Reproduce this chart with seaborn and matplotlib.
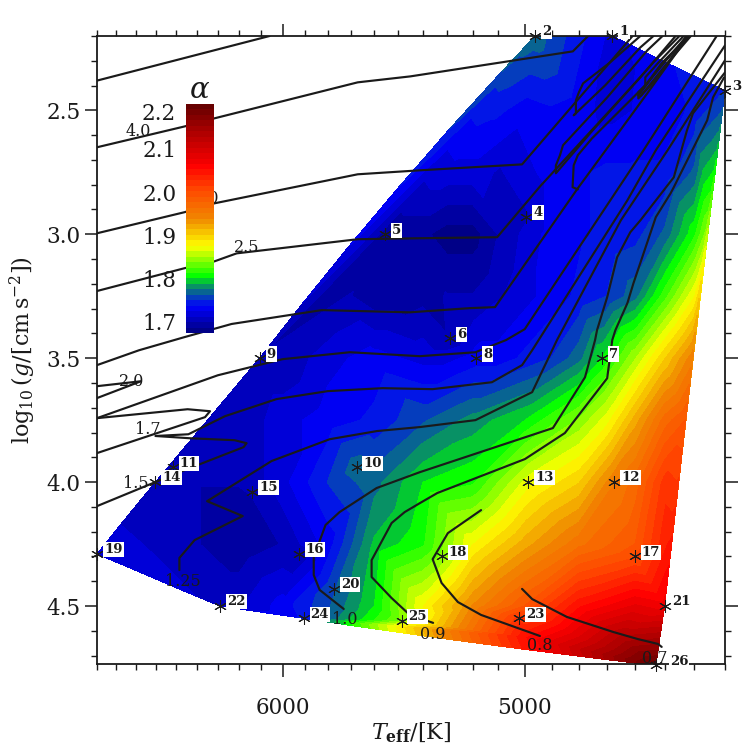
import numpy as np
import matplotlib
matplotlib.use("Agg")
import matplotlib.pyplot as plt
import matplotlib.tri as mtri
from matplotlib.colors import LinearSegmentedColormap
from matplotlib.ticker import FixedLocator, NullFormatter, FixedFormatter
import seaborn as sns

sns.set_theme(style="ticks")
plt.rcParams['font.family'] = ['DejaVu Serif']
plt.rcParams['mathtext.fontset'] = 'dejavuserif'

# simulations (star symbols)
star_id = list(range(1, 27))
star_teff = [4681, 4961, 4300, 4994, 5556, 5290, 4718, 5187, 6105, 5675, 6518, 4674, 4986,
             6603, 6139, 5927, 4603, 5323, 6900, 5773, 4500, 6289, 5021, 5906, 5486, 4530]
star_logg = [2.20, 2.20, 2.42, 2.93, 3.00, 3.42, 3.50, 3.50, 3.50, 3.94, 3.94, 4.00, 4.00,
             4.00, 4.04, 4.29, 4.30, 4.30, 4.29, 4.43, 4.50, 4.50, 4.55, 4.55, 4.56, 4.74]
star_alpha = [1.72, 1.77, 1.75, 1.71, 1.69, 1.70, 1.80, 1.73, 1.70, 1.77, 1.70, 1.95, 1.87,
              1.70, 1.70, 1.70, 2.00, 1.84, 1.72, 1.76, 2.07, 1.71, 2.02, 1.74, 1.84, 2.20]

# extra alpha readings between the stars, one list per logg row
row_25_teff = [5100, 5000, 4900, 4800, 4700, 4600, 4500, 4400]
row_25_alpha = [1.74, 1.73, 1.735, 1.73, 1.72, 1.725, 1.73, 1.74]
row_275_teff = [5300, 5200, 5100, 5000, 4900, 4800, 4700, 4600, 4500, 4400, 4370]
row_275_alpha = [1.72, 1.72, 1.71, 1.72, 1.73, 1.735, 1.74, 1.74, 1.74, 1.765, 1.79]
row_30_teff = [5500, 5400, 5300, 5200, 5100, 4900, 4800, 4700, 4600, 4500, 4400, 4365]
row_30_alpha = [1.69, 1.69, 1.68, 1.68, 1.70, 1.73, 1.735, 1.74, 1.745, 1.765, 1.81, 1.84]
row_325_teff = [5700, 5600, 5500, 5400, 5300, 5200, 5100, 5000, 4900, 4800, 4700, 4600, 4500, 4400]
row_325_alpha = [1.70, 1.69, 1.69, 1.695, 1.70, 1.70, 1.71, 1.72, 1.73, 1.74, 1.75, 1.77, 1.82, 1.875]
row_35_teff = [6000, 5800, 5600, 5400, 5300, 5100, 5000, 4900, 4800, 4600, 4500, 4410]
row_35_alpha = [1.70, 1.72, 1.73, 1.72, 1.72, 1.73, 1.74, 1.75, 1.77, 1.85, 1.90, 1.945]
row_375_teff = [6200, 6000, 5800, 5600, 5400, 5200, 5000, 4800, 4700, 4600, 4500, 4430]
row_375_alpha = [1.70, 1.72, 1.73, 1.74, 1.76, 1.78, 1.80, 1.84, 1.87, 1.92, 1.97, 1.99]
row_40_teff = [6400, 6200, 6000, 5800, 5600, 5400, 5200, 4800, 4600, 4500]
row_40_alpha = [1.70, 1.70, 1.72, 1.75, 1.77, 1.80, 1.81, 1.90, 1.97, 2.02]
row_425_teff = [6600, 6400, 6200, 6000, 5800, 5600, 5400, 5200, 5000, 4800, 4600, 4490]
row_425_alpha = [1.71, 1.70, 1.69, 1.70, 1.73, 1.79, 1.81, 1.875, 1.92, 1.96, 1.99, 2.04]
row_45_teff = [6200, 6000, 5800, 5600, 5400, 5200, 5000, 4800, 4600]
row_45_alpha = [1.71, 1.73, 1.76, 1.80, 1.875, 1.94, 1.99, 2.05, 2.08]
row_4625_teff = [5000, 4800, 4650]
row_4625_alpha = [2.05, 2.09, 2.13]

# black curves
line_a = ([6900, 6059], [2.38, 2.20])
line_b = ([6900, 6460, 6315, 5670, 5450, 4822, 4767], [2.649, 2.565, 2.532, 2.387, 2.363, 2.262, 2.20])
line_c = ([6900, 6460, 6315, 5670, 5411, 5010, 4942, 4610], [2.996, 2.911, 2.875, 2.758, 2.742, 2.718, 2.633, 2.20])
line_d = ([6900, 6460, 6315, 6211, 5670, 5411, 5105, 4942, 4583, 4463],
          [3.229, 3.137, 3.109, 3.077, 3.020, 3.016, 3.012, 2.806, 2.367, 2.20])
line_e = ([6900, 6685, 6460, 6235, 5826, 5452, 5210, 5113, 4880, 4807, 4559, 4420],
          [3.528, 3.468, 3.415, 3.362, 3.306, 3.315, 3.298, 3.294, 2.935, 2.819, 2.431, 2.20])
line_h1 = ([4583, 4688, 4785, 4800, 4811, 4811, 4819, 4706, 4583, 4538],
           [2.20, 2.306, 2.391, 2.427, 2.46, 2.512, 2.52, 2.399, 2.246, 2.20])
line_h2 = ([4507, 4559, 4699, 4858, 4869, 4884, 4884, 4760, 4538, 4450],
           [2.20, 2.258, 2.448, 2.641, 2.681, 2.722, 2.754, 2.593, 2.306, 2.20])
line_h3 = ([4426, 4566, 4753, 4804, 4819, 4823, 4804],
           [2.20, 2.399, 2.613, 2.681, 2.722, 2.81, 2.819])
line_h4 = ([4436, 4523, 4566, 4566, 4590, 4590, 4532, 4426],
           [2.20, 2.31, 2.367, 2.399, 2.427, 2.452, 2.379, 2.20])
line_h5 = ([4590, 4500, 4415], [2.44, 2.30, 2.20])
line_h6 = ([4585, 4510, 4420], [2.43, 2.31, 2.20])
line_h7 = ([4580, 4505, 4412], [2.44, 2.33, 2.20])
line_p1 = ([6900, 6675, 6900], [3.613, 3.593, 3.661])
line_p2 = ([6900, 6445, 6337, 6361, 6900], [3.742, 3.706, 3.714, 3.738, 3.883])
line_f = ([6900, 6300, 6000, 5704, 5411, 5189, 5071, 5000, 4572, 4327],
          [3.742, 3.569, 3.504, 3.476, 3.492, 3.476, 3.427, 3.383, 2.661, 2.20])
line_g = ([6900, 6485, 6179, 6165, 6221, 6436, 6603, 6441, 6266, 6027, 5800, 5565, 5359, 5125, 5010, 4972, 4628, 4530, 4300],
          [4.097, 3.96, 3.859, 3.843, 3.831, 3.823, 3.814, 3.807, 3.734, 3.665, 3.633, 3.621, 3.625, 3.597, 3.528, 3.468, 2.863, 2.661, 2.238])
line_g2 = ([6485, 6485, 6411, 6183, 6351, 6050, 5791, 5588, 5411, 5189, 4972, 4880, 4651, 4490, 4300],
           [4.355, 4.306, 4.234, 4.137, 4.077, 3.915, 3.827, 3.794, 3.778, 3.75, 3.637, 3.427, 2.944, 2.661, 2.298])
line_h = ([5730, 5835, 5861, 5861, 5809, 5748, 5590, 5411, 4895, 4778, 4742, 4735, 4699, 4664, 4618, 4583, 4469, 4425, 4405, 4300],
          [4.512, 4.435, 4.375, 4.302, 4.173, 4.121, 4.024, 3.96, 3.782, 3.577, 3.427, 3.387, 3.254, 3.093, 2.992, 2.944, 2.77, 2.581, 2.512, 2.347])
line_i = ([5357, 5452, 5527, 5611, 5611, 5527, 5473, 5411, 5340, 4999, 4851, 4699, 4681, 4670, 4628, 4607, 4530, 4480, 4469, 4358, 4339, 4303],
          [4.568, 4.536, 4.468, 4.383, 4.315, 4.165, 4.121, 4.085, 4.044, 3.907, 3.802, 3.581, 3.427, 3.387, 3.278, 3.198, 2.931, 2.835, 2.81, 2.54, 2.448, 2.367])
line_09 = ([5167, 5298, 5359, 5323, 5258, 5167, 4943], [4.113, 4.206, 4.311, 4.407, 4.484, 4.536, 4.621])
line_08 = ([5010, 4972, 4844, 4677, 4593, 4523, 4510], [4.431, 4.472, 4.544, 4.605, 4.633, 4.653, 4.665])

curves = [line_a, line_b, line_c, line_d, line_e, line_h1, line_h2, line_h3, line_h4, line_h5, line_h6, line_h7,
          line_p1, line_p2, line_f, line_g, line_g2, line_h, line_i, line_09, line_08]

# curve labels
curve_text = ["4.0", "3.0", "2.5", "2.0", "1.7", "1.5", "1.25", "1.0", "0.9", "0.8", "0.7"]
curve_teff = [6690, 6352, 6165, 6720, 6640, 6700, 6470, 5725, 5359, 4943, 4535]
curve_logg = [2.585, 2.855, 3.052, 3.593, 3.786, 4.004, 4.403, 4.553, 4.613, 4.661, 4.71]

# colour bar
bar_ticks = [1.7, 1.8, 1.9, 2.0, 2.1, 2.186]
bar_labels = ["1.7", "1.8", "1.9", "2.0", "2.1", "2.2"]
alpha_min, alpha_max = 1.674, 2.204

cmap = LinearSegmentedColormap.from_list("alpha", [
    (0.0, "#00007a"), (0.116, "#0000ff"), (0.19, "#0a7a7a"), (0.247, "#00ff00"),
    (0.378, "#ffff00"), (0.495, "#f08a00"), (0.625, "#ff4800"), (0.728, "#ff0000"),
    (0.887, "#a80000"), (1.0, "#600000")])
levels = np.linspace(alpha_min, alpha_max, 43)

# gather everything for the triangulation
rows = [(2.5, row_25_teff, row_25_alpha), (2.75, row_275_teff, row_275_alpha),
        (3.0, row_30_teff, row_30_alpha), (3.25, row_325_teff, row_325_alpha),
        (3.5, row_35_teff, row_35_alpha), (3.75, row_375_teff, row_375_alpha),
        (4.0, row_40_teff, row_40_alpha), (4.25, row_425_teff, row_425_alpha),
        (4.5, row_45_teff, row_45_alpha), (4.625, row_4625_teff, row_4625_alpha)]
all_teff = list(star_teff)
all_logg = list(star_logg)
all_alpha = list(star_alpha)
for g, ts, als in rows:
    all_teff += ts
    all_logg += [g] * len(ts)
    all_alpha += als
all_teff = np.array(all_teff, dtype=float)
all_logg = np.array(all_logg, dtype=float)
all_alpha = np.array(all_alpha, dtype=float)

W = 747
fig = plt.figure(figsize=(W / 100, W / 100), dpi=100)
ax = fig.add_axes([97 / W, 1 - 664 / W, 628 / W, 628 / W])
ax.set_xscale("log")

# triangles are made in (about) pixel space, the log axis squeezes T otherwise
tri0 = mtri.Triangulation(np.log(all_teff) * 5.35, all_logg)
tri = mtri.Triangulation(all_teff, all_logg, tri0.triangles)
ax.tricontourf(tri, all_alpha, levels=levels, cmap=cmap, extend="both", zorder=1)

for ts, gs in curves:
    sns.lineplot(x=ts, y=gs, sort=False, estimator=None, color="k", linewidth=1.55, ax=ax, zorder=3)

sns.scatterplot(x=star_teff, y=star_logg, marker=(6, 2, 0), s=75, color="k", linewidth=0.75,
                ax=ax, zorder=5, clip_on=False)

for i, t, g in zip(star_id, star_teff, star_logg):
    off = 14 if i == 26 else 7
    ax.annotate(str(i), (t, g), xytext=(off * 0.72, 3), textcoords="offset points",
                fontsize=9.5, fontweight="bold", color="k", ha="left", va="center", zorder=6,
                bbox=dict(fc="white", ec="none", pad=0.8), annotation_clip=False)

for s, t, g in zip(curve_text, curve_teff, curve_logg):
    ax.text(t, g, s, fontsize=11.5, color="k", ha="center", va="center", zorder=7)

ax.set_xlim(6900, 4300)
ax.set_ylim(4.734, 2.2)
ax.xaxis.set_major_locator(FixedLocator([5000, 6000]))
ax.xaxis.set_major_formatter(FixedFormatter(["5000", "6000"]))
ax.xaxis.set_minor_locator(FixedLocator(np.arange(4300, 6901, 100)))
ax.xaxis.set_minor_formatter(NullFormatter())
ax.yaxis.set_major_locator(FixedLocator([2.5, 3.0, 3.5, 4.0, 4.5]))
ax.yaxis.set_minor_locator(FixedLocator(np.arange(2.2, 4.74, 0.1)))
ax.tick_params(which="major", direction="out", length=9, width=1.1, top=True, right=True,
               labelsize=15.5, color="k", labelcolor="k")
ax.tick_params(axis="x", which="major", pad=15)
ax.tick_params(axis="y", which="major", pad=3)
ax.tick_params(which="minor", direction="out", length=4.5, width=1.0, top=True, right=True, color="k")
ax.set_xlabel(r"$T_{\mathbf{eff}}/[\mathrm{K}]$", fontsize=16, color="k", labelpad=1)
ax.set_ylabel(r"$\log_{10}(g/[\mathrm{cm\,s}^{-2}])$", fontsize=16, color="k", labelpad=6)
for sp in ax.spines.values():
    sp.set_linewidth(1.3)
    sp.set_color("k")
    sp.set_visible(True)
ax.set_facecolor("white")

# colour bar drawn inside the plot
cax = fig.add_axes([186 / W, 1 - 333 / W, 28 / W, 229 / W], zorder=10)
sns.heatmap(((levels[:-1] + levels[1:]) / 2)[:, None], cmap=cmap, vmin=alpha_min, vmax=alpha_max,
            cbar=False, ax=cax, xticklabels=False, yticklabels=False)
cax.invert_yaxis()
n = len(levels) - 1
cax.set_yticks([(v - alpha_min) / (alpha_max - alpha_min) * n for v in bar_ticks])
cax.set_yticklabels(bar_labels, rotation=0, fontsize=15.5, color="k")
cax.tick_params(axis="y", length=0, pad=7, left=True)
cax.set_title(r"$\alpha$", fontsize=21, color="k", pad=2)
cax.patch.set_alpha(0)

fig.savefig("out.png", dpi=100)
